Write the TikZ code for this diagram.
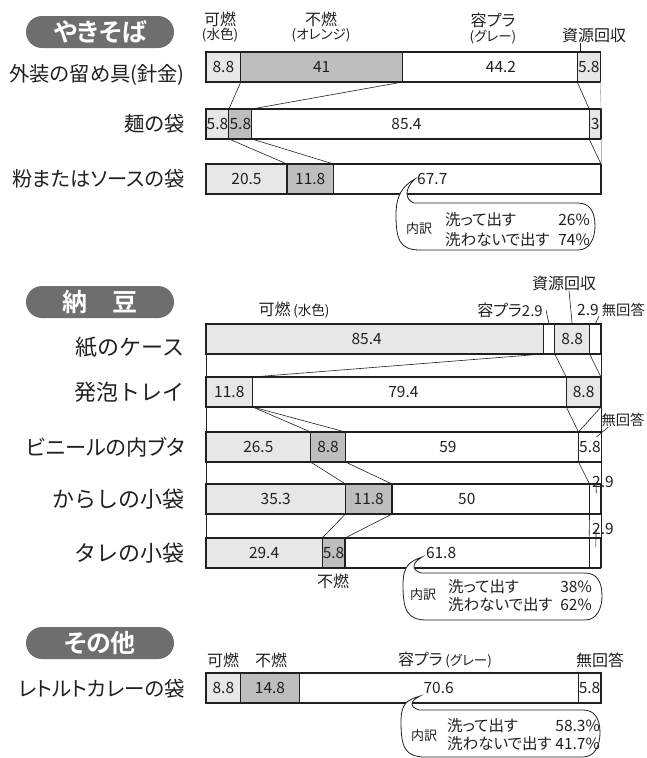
\documentclass[tikz,border=0pt]{standalone}
\usepackage{fontspec}
\setmainfont{Noto Sans CJK JP}[RawFeature=+palt, BoldFont={Noto Sans CJK JP Bold}]
\newfontfamily\widefont{Noto Sans CJK JP}[BoldFont={Noto Sans CJK JP Bold}]
\usetikzlibrary{positioning}
\definecolor{ink}{HTML}{231F20}
\definecolor{pale}{HTML}{E6E7E8}
\definecolor{mid}{HTML}{BCBEC0}
\definecolor{pillgray}{HTML}{6D6E71}
\tikzset{
  bubble/.pic={
    \draw[line width=0.8pt, fill=white] (0,0) .. controls (-13,0.3*#1) and (-19,#1-7) .. (-19,#1+12)
      .. controls (-19,#1+37) and (-15,#1+47) .. (5,#1+47)
      -- (163,#1+47)
      .. controls (175,#1+47) and (180,#1+35) .. (180,#1+23)
      .. controls (180,#1+9) and (175,#1) .. (163,#1)
      -- (-1,#1)
      .. controls (-10,#1-3) and (-11,0.4*#1) .. (0,0) -- cycle;
  }
}
\begin{document}
\begin{tikzpicture}[x=1pt, y=-1pt, ink,
  cell/.style={draw=ink, line width=1.1pt, minimum width=#1*3.95pt, minimum height=30pt,
    inner sep=0pt, outer sep=0pt, anchor=north west, font=\fontsize{15.5}{16}\selectfont},
  burn/.style={fill=pale}, noburn/.style={fill=mid}, recycle/.style={fill=pale},
  link/.style={line width=0.6pt},
  rim/.style={line width=0.6pt, gray!60},
  pointer/.style={line width=0.6pt},
  pill/.style={fill=pillgray, text=white, rounded corners=16pt, minimum width=148pt,
    minimum height=32pt, inner sep=0pt, font=\bfseries\fontsize{25}{25}\selectfont},
  item/.style={anchor=east, inner sep=0pt, font=\fontsize{20.3}{21}\selectfont},
  wideitem/.style={anchor=east, inner sep=0pt, font=\widefont\fontsize{22}{22}\selectfont},
  kind/.style={inner sep=0pt, font=\fontsize{16}{16}\selectfont},
  nokind/.style={inner sep=0pt, font=\fontsize{14.3}{15}\selectfont},
  paren/.style={inner sep=0pt, font=\fontsize{13.5}{14}\selectfont},
  num/.style={inner sep=0pt, font=\fontsize{15.5}{16}\selectfont},
  note/.style={inner sep=0pt, font=\fontsize{15.5}{16}\selectfont},
  tag/.style={inner sep=0pt, font=\fontsize{13}{13}\selectfont}]
\useasboundingbox (0,0) rectangle (646,758);

% やきそば
\node[pill] (hy) at (100,32) {やきそば};
\node[kind] (ky1) at (220,19) {可燃};
\node[paren] (ky1p) at (220,35) {(水色)};
\node[kind] (ky2) at (321,19) {不燃};
\node[paren] (ky2p) at (321,35) {(オレンジ)};
\node[kind] (ky3) at (493,20) {容プラ};
\node[paren] (ky3p) at (493,37) {(グレー)};
\node[kind] (ky4) at (594,35) {資源回収};

\node[item] (iy1) at (185,75) {外装の留め具(針金)};
\node[item] (iy2) at (185,124) {麺の袋};
\node[item] (iy3) at (185,179) {粉またはソースの袋};

\node[cell=8.8, burn] (y1a) at (206,52) {8.8};
\node[cell=41, noburn] (y1b) at (y1a.north east) {41};
\node[cell=44.2, label={[num, xshift=11pt]center:44.2}] (y1c) at (y1b.north east) {};
\node[cell=5.8, recycle] (y1d) at (y1c.north east) {5.8};

\node[cell=5.8, burn] (y2a) at (206,109) {5.8};
\node[cell=5.8, noburn] (y2b) at (y2a.north east) {5.8};
\node[cell=85.4, label={[num, xshift=-14pt]center:85.4}] (y2c) at (y2b.north east) {};
\node[cell=3, recycle] (y2d) at (y2c.north east) {3};

\node[cell=20.5, burn] (y3a) at (206,164) {20.5};
\node[cell=11.8, noburn] (y3b) at (y3a.north east) {11.8};
\node[cell=67.7, label={[num, xshift=-35pt]center:67.7}] (y3c) at (y3b.north east) {};

\draw[link] (y1a.south east) -- (y2a.north east);
\draw[link] (y1b.south east) -- (y2b.north east);
\draw[link] (y1c.south east) -- (y2c.north east);
\draw[link] (y2a.south east) -- (y3a.north east);
\draw[link] (y2b.south east) -- (y3b.north east);
\draw[link] (y2c.south east) -- (y3c.north east);
\draw[rim] (y1d.south east) -- (y2d.north east);
\draw[rim] (y2d.south east) -- (y3c.north east);
\draw[pointer] ([xshift=3pt]y1d.north west) -- ([xshift=3pt]y1d.north west |- ky4.south);

\pic (by) at (415,179) {bubble=24};
\node[tag] (ty0) at (419,229) {内訳};
\node[note, anchor=west] (ty1) at (445,220) {洗って出す};
\node[note, anchor=west] (ty2) at (445,240) {洗わないで出す};
\node[note, anchor=east] (ty3) at (590,220) {26\%};
\node[note, anchor=east] (ty4) at (590,240) {74\%};

% 納豆
\node[pill, font=\widefont\bfseries\fontsize{25}{25}\selectfont] (hn) at (100,302) {納　豆};
\node[kind] (kn1) at (294,310) {可燃\,{\fontsize{13.5}{14}\selectfont(水色)}};
\node[kind, anchor=east] (kn2) at (543,310) {容プラ{\fontsize{15}{15}\selectfont 2.9}};
\node[kind] (kn3) at (564,283) {資源回収};
\node[num] (kn4) at (588,310) {2.9};
\node[nokind, anchor=east] (kn5) at (645,310) {無回答};
\node[nokind] (kn6) at (623,420) {無回答};
\node[num] (kn7) at (603,482) {2.9};
\node[num] (kn8) at (603,529) {2.9};
\node[kind] (kn9) at (333,581) {不燃};

\node[wideitem] (in1) at (185,347) {紙のケース};
\node[wideitem] (in2) at (185,392) {発泡トレイ};
\node[item, font=\fontsize{21.2}{22}\selectfont] (in3) at (185,447) {ビニールの内ブタ};
\node[wideitem] (in4) at (185,499) {からしの小袋};
\node[wideitem] (in5) at (185,553) {タレの小袋};

\node[cell=85.4, burn, label={[num, xshift=-8pt]center:85.4}] (n1a) at (206,324) {};
\node[cell=2.9] (n1b) at (n1a.north east) {};
\node[cell=8.8, recycle] (n1c) at (n1b.north east) {8.8};
\node[cell=2.9] (n1d) at (n1c.north east) {};

\node[cell=11.8, burn] (n2a) at (206,377) {11.8};
\node[cell=79.4, label={[num, xshift=-6pt]center:79.4}] (n2b) at (n2a.north east) {};
\node[cell=8.8, recycle] (n2c) at (n2b.north east) {8.8};

\node[cell=26.5, burn] (n3a) at (206,432) {26.5};
\node[cell=8.8, noburn] (n3b) at (n3a.north east) {8.8};
\node[cell=59, label={[num, xshift=-14pt]center:59}] (n3c) at (n3b.north east) {};
\node[cell=5.8] (n3d) at (n3c.north east) {5.8};

\node[cell=35.3, burn] (n4a) at (206,484) {35.3};
\node[cell=11.8, noburn] (n4b) at (n4a.north east) {11.8};
\node[cell=50, label={[num, xshift=-24pt]center:50}] (n4c) at (n4b.north east) {};
\node[cell=2.9] (n4d) at (n4c.north east) {};

\node[cell=29.4, burn] (n5a) at (206,538) {29.4};
\node[cell=5.8, noburn] (n5b) at (n5a.north east) {5.8};
\node[cell=61.8, label={[num, xshift=-26pt]center:61.8}] (n5c) at (n5b.north east) {};
\node[cell=2.9] (n5d) at (n5c.north east) {};

\draw[link] (n1a.north west) -- (n5a.south west);
\draw[link] (n1d.north east) -- (n1d.north east |- n5d.south east);
\draw[link] (n1a.south east) -- (n2a.north east);
\draw[link] (n1b.south east) -- (n2b.north east);
\draw[link] (n1c.south east) -- (n2c.north east);
\draw[link] (n2a.south east) -- (n3a.north east);
\draw[link] (n2a.south east) -- (n3b.north east);
\draw[link] (n2b.south east) -- (n3c.north east);
\draw[link] (n2c.south east) -- (n3c.north east);
\draw[link] (n3a.south east) -- (n4a.north east);
\draw[link] (n3b.south east) -- (n4b.north east);
\draw[link] (n3c.south east) -- (n4c.north east);
\draw[link] (n4a.south east) -- (n5a.north east);
\draw[link] (n4b.south east) -- (n5b.north east);
\draw[link] (n4c.south east) -- (n5c.north east);

\draw[pointer] ([xshift=3pt]kn2.east) -- (n1b.north);
\draw[pointer] ([xshift=5pt]kn3.south) -- (n1c.north);
\draw[pointer] (kn4.south east) -- (n1d.north);
\draw[pointer] ([xshift=7pt]kn6.south west) -- ([xshift=-5pt,yshift=-5pt]n3d.north east);
\draw[pointer] ([xshift=4pt]kn7.west) -- ([xshift=1pt,yshift=-9pt]n4d.north);
\draw[pointer] ([xshift=4pt]kn8.west) -- ([xshift=1pt,yshift=-9pt]n5d.north);

\pic (bn) at (422,557) {bubble=16};
\node[tag] (tn0) at (423,595) {内訳};
\node[note, anchor=west] (tn1) at (448,587) {洗って出す};
\node[note, anchor=west] (tn2) at (448,605) {洗わないで出す};
\node[note, anchor=east] (tn3) at (592,587) {38\%};
\node[note, anchor=east] (tn4) at (592,605) {62\%};

% その他
\node[pill] (ho) at (100,643) {その他};
\node[kind] (ko1) at (223,660) {可燃};
\node[kind] (ko2) at (271,660) {不燃};
\node[kind] (ko3) at (445,660) {容プラ\,{\fontsize{13.5}{14}\selectfont(グレー)}};
\node[kind] (ko4) at (600,660) {無回答};
\node[item, font=\fontsize{20.5}{21}\selectfont] (io1) at (185,689) {レトルトカレーの袋};

\node[cell=8.8, burn] (o1a) at (206,673) {8.8};
\node[cell=14.8, noburn] (o1b) at (o1a.north east) {14.8};
\node[cell=70.6] (o1c) at (o1b.north east) {70.6};
\node[cell=5.8] (o1d) at (o1c.north east) {5.8};

\pic (bo) at (420,696) {bubble=14};
\node[tag] (to0) at (424,736) {内訳};
\node[note, anchor=west] (to1) at (447,726) {洗って出す};
\node[note, anchor=west] (to2) at (447,744) {洗わないで出す};
\node[note, anchor=east] (to3) at (600,726) {58.3\%};
\node[note, anchor=east] (to4) at (600,744) {41.7\%};
\end{tikzpicture}
\end{document}
